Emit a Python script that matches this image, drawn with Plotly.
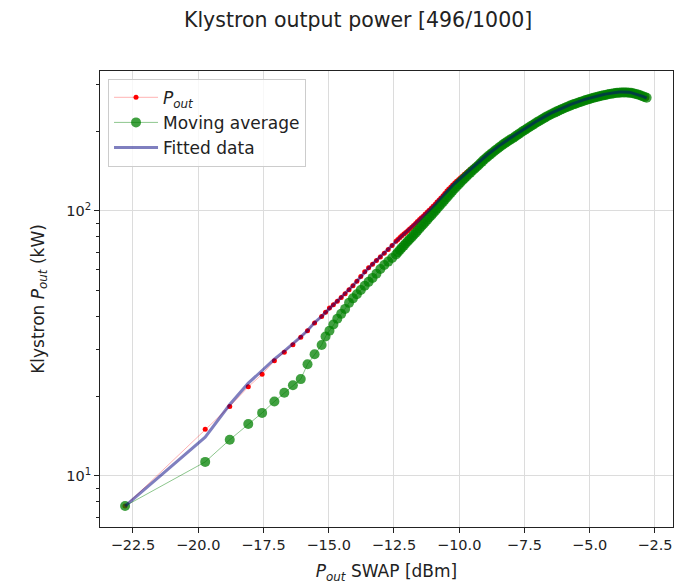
import plotly.graph_objects as go

# SWAP output power readings [dBm]
swap_dbm = [
    -22.80, -19.73, -18.79, -18.08, -17.55, -17.08, -16.70, -16.37, -16.07, -15.81,
    -15.54, -15.27, -15.12, -14.97, -14.82, -14.67, -14.52, -14.37, -14.22, -14.07,
    -13.92, -13.77, -13.62, -13.47, -13.32, -13.17, -13.02, -12.87, -12.72, -12.57,
    -12.42, -12.35, -12.27, -12.20, -12.12, -12.05, -11.97, -11.90, -11.82, -11.75,
    -11.67, -11.60, -11.52, -11.45, -11.37, -11.30, -11.22, -11.15, -11.07, -11.00,
    -10.92, -10.85, -10.77, -10.70, -10.62, -10.55, -10.47, -10.40, -10.32, -10.25,
    -10.17, -10.10, -10.02, -9.95, -9.87, -9.80, -9.72, -9.65, -9.57, -9.50,
    -9.42, -9.35, -9.27, -9.20, -9.12, -9.05, -8.97, -8.90, -8.82, -8.75,
    -8.67, -8.60, -8.52, -8.45, -8.37, -8.30, -8.22, -8.15, -8.07, -8.00,
    -7.92, -7.85, -7.77, -7.70, -7.62, -7.55, -7.47, -7.40, -7.32, -7.25,
    -7.17, -7.10, -7.02, -6.95, -6.87, -6.80, -6.72, -6.65, -6.57, -6.50,
    -6.42, -6.35, -6.27, -6.20, -6.12, -6.05, -5.97, -5.90, -5.82, -5.75,
    -5.67, -5.60, -5.52, -5.45, -5.37, -5.30, -5.22, -5.15, -5.07, -5.00,
    -4.92, -4.85, -4.77, -4.70, -4.62, -4.55, -4.47, -4.40, -4.32, -4.25,
    -4.17, -4.10, -4.02, -3.95, -3.87, -3.80, -3.72, -3.65, -3.57, -3.50,
    -3.42, -3.35, -3.27, -3.20, -3.12, -3.05, -2.97, -2.90, -2.82,
]

# Measured klystron output power [kW]
pout_kw = [
    7.7, 15.0, 18.3, 21.7, 24.2, 27.2, 29.3, 31.3, 33.4, 35.3,
    37.8, 40.0, 41.5, 43.0, 44.3, 45.6, 47.1, 48.7, 50.4, 52.2,
    54.3, 56.6, 58.9, 61.0, 62.9, 65.0, 67.0, 69.2, 71.5, 74.0,
    76.8, 78.1, 79.4, 80.6, 81.9, 83.0, 84.2, 85.5, 86.8, 88.2,
    89.6, 91.2, 92.8, 94.3, 95.8, 97.4, 99.0, 100.6, 102.3, 104.1,
    106.0, 108.0, 110.0, 112.0, 114.0, 116.4, 118.8, 120.9, 123.0, 125.2,
    127.4, 129.4, 131.5, 133.5, 135.5, 137.5, 139.6, 141.5, 143.5, 145.5,
    147.6, 149.7, 151.8, 154.1, 156.5, 159.0, 161.5, 163.8, 166.0, 168.0,
    170.0, 172.2, 174.5, 176.8, 179.0, 181.2, 183.5, 185.5, 187.5, 189.5,
    191.5, 193.8, 196.0, 198.0, 200.0, 202.5, 205.0, 207.2, 209.5, 211.8,
    214.0, 216.2, 218.5, 220.8, 223.0, 225.2, 227.5, 229.5, 231.5, 233.5,
    235.5, 237.5, 239.5, 241.2, 243.0, 244.8, 246.5, 248.2, 250.0, 251.8,
    253.5, 255.0, 256.5, 258.0, 259.5, 261.0, 262.5, 264.0, 265.5, 266.8,
    268.0, 269.2, 270.5, 271.5, 272.5, 273.8, 275.0, 276.0, 277.0, 277.8,
    278.5, 279.3, 280.0, 280.5, 281.0, 281.3, 281.5, 281.3, 281.0, 280.3,
    279.5, 278.3, 277.0, 275.5, 274.0, 272.3, 270.5, 268.5, 266.5,
]

# Moving average of the output power [kW]
moving_avg_kw = [
    7.7, 11.3, 13.7, 15.7, 17.3, 19.1, 20.6, 22.0, 23.2, 26.4,
    28.8, 31.2, 33.6, 35.3, 37.3, 39.2, 40.9, 42.7, 45.0, 46.8,
    48.5, 50.3, 52.2, 54.0, 55.9, 58.0, 60.4, 62.5, 64.4, 66.4,
    68.5, 69.8, 71.2, 72.6, 74.0, 75.4, 76.8, 78.2, 79.6, 81.1,
    82.6, 84.2, 85.8, 87.5, 89.2, 90.9, 92.6, 94.4, 96.2, 98.1,
    100.0, 102.0, 104.0, 106.0, 108.0, 110.2, 112.5, 114.7, 117.0, 119.2,
    121.5, 123.7, 126.0, 128.2, 130.5, 132.7, 135.0, 137.2, 139.5, 141.7,
    144.0, 146.2, 148.5, 151.0, 153.5, 156.0, 158.5, 160.7, 163.0, 165.2,
    167.5, 169.7, 172.0, 174.2, 176.5, 178.7, 181.0, 183.0, 185.0, 187.0,
    189.0, 191.2, 193.5, 195.7, 198.0, 200.2, 202.5, 204.7, 207.0, 209.2,
    211.5, 213.7, 216.0, 218.2, 220.5, 222.7, 225.0, 227.0, 229.0, 231.0,
    233.0, 235.0, 237.0, 239.0, 241.0, 242.7, 244.5, 246.2, 248.0, 249.7,
    251.5, 253.0, 254.5, 256.0, 257.5, 259.0, 260.5, 262.0, 263.5, 264.7,
    266.0, 267.2, 268.5, 269.7, 271.0, 272.0, 273.0, 274.0, 275.0, 276.0,
    277.0, 277.7, 278.5, 279.0, 279.5, 279.8, 280.0, 280.0, 280.0, 279.5,
    279.0, 278.0, 277.0, 275.8, 274.5, 272.8, 271.0, 269.3, 267.5,
]

# Fitted output power [kW]
fitted_kw = [
    7.7, 14.0, 18.6, 22.4, 25.0, 27.6, 29.6, 31.5, 33.5, 35.4,
    37.9, 40.0, 41.5, 42.9, 44.3, 45.7, 47.2, 48.8, 50.5, 52.3,
    54.3, 56.5, 58.8, 60.9, 63.0, 65.0, 67.1, 69.3, 71.6, 74.1,
    76.7, 78.0, 79.3, 80.5, 81.8, 83.0, 84.3, 85.6, 86.9, 88.3,
    89.7, 91.2, 92.7, 94.2, 95.8, 97.4, 99.0, 100.7, 102.4, 104.2,
    106.0, 108.0, 110.0, 112.0, 114.1, 116.3, 118.5, 120.7, 122.9, 125.1,
    127.2, 129.3, 131.4, 133.4, 135.5, 137.5, 139.5, 141.5, 143.5, 145.5,
    147.6, 149.8, 152.0, 154.3, 156.6, 158.9, 161.3, 163.6, 165.8, 168.0,
    170.1, 172.3, 174.5, 176.8, 179.0, 181.2, 183.4, 185.5, 187.5, 189.5,
    191.6, 193.7, 195.9, 198.0, 200.2, 202.5, 204.8, 207.1, 209.4, 211.7,
    214.0, 216.2, 218.5, 220.7, 223.0, 225.2, 227.4, 229.5, 231.5, 233.5,
    235.5, 237.5, 239.4, 241.2, 243.0, 244.8, 246.6, 248.4, 250.1, 251.8,
    253.4, 255.0, 256.6, 258.1, 259.6, 261.1, 262.5, 264.0, 265.4, 266.7,
    268.0, 269.2, 270.4, 271.5, 272.6, 273.8, 274.9, 275.9, 276.9, 277.8,
    278.6, 279.3, 279.9, 280.4, 280.9, 281.2, 281.3, 281.2, 281.0, 280.4,
    279.6, 278.4, 277.1, 275.6, 274.0, 272.3, 270.5, 268.6, 266.6,
]

x_ticks = [-22.5, -20.0, -17.5, -15.0, -12.5, -10.0, -7.5, -5.0, -2.5]
x_tick_text = ["\u221222.5", "\u221220.0", "\u221217.5", "\u221215.0", "\u221212.5",
               "\u221210.0", "\u22127.5", "\u22125.0", "\u22122.5"]
y_ticks = [10, 100]
y_tick_text = ["10<sup>1</sup>", "10<sup>2</sup>"]
y_minor = [7, 8, 9, 20, 30, 40, 50, 60, 70, 80, 90, 200, 300]

FONT = "DejaVu Sans"
INK = "#222222"

fig = go.Figure()

fig.add_trace(go.Scatter(
    x=swap_dbm, y=pout_kw, mode="lines+markers",
    name="<i>P</i><sub><i>out</i></sub>",
    line=dict(color="rgba(255,0,0,0.3)", width=1),
    marker=dict(color="red", size=5, line=dict(width=0)),
))
fig.add_trace(go.Scatter(
    x=swap_dbm, y=moving_avg_kw, mode="lines+markers",
    name="Moving average",
    line=dict(color="rgba(0,128,0,0.45)", width=1),
    marker=dict(color="rgba(0,128,0,0.75)", size=10, line=dict(width=0)),
))
fig.add_trace(go.Scatter(
    x=swap_dbm, y=fitted_kw, mode="lines",
    name="Fitted data",
    line=dict(color="rgba(0,0,128,0.5)", width=3),
))

axis_common = dict(
    showline=True, linecolor=INK, linewidth=1, mirror=True,
    showgrid=True, gridcolor="#dcdcdc", gridwidth=1,
    ticks="outside", ticklen=5, tickwidth=1, tickcolor=INK,
    tickfont=dict(family=FONT, size=14.5, color=INK),
    zeroline=False, automargin=False,
)

fig.update_xaxes(
    range=[-23.76, -1.81], tickmode="array", tickvals=x_ticks, ticktext=x_tick_text,
    title=dict(text="<i>P</i><sub><i>out</i></sub> SWAP [dBm]",
               font=dict(family=FONT, size=17, color=INK), standoff=13),
    **axis_common,
)
fig.update_yaxes(
    type="log", range=[0.8075, 2.528], tickmode="array", tickvals=y_ticks, ticktext=y_tick_text,
    minor=dict(tickmode="array", tickvals=y_minor, ticks="outside", ticklen=3,
               tickwidth=1, tickcolor=INK, showgrid=False),
    title=dict(text="Klystron <i>P</i><sub><i>out</i></sub> (kW)",
               font=dict(family=FONT, size=17, color=INK), standoff=17),
    **axis_common,
)

fig.update_layout(
    width=690, height=584,
    margin=dict(l=100, r=17, t=71, b=57),
    paper_bgcolor="white", plot_bgcolor="white",
    font=dict(family=FONT, size=14, color=INK),
    title=dict(text="Klystron output power [496/1000]", x=0.519, xref="container",
               xanchor="center", y=0.966, yref="container", yanchor="middle",
               font=dict(family=FONT, size=20.5, color=INK)),
    legend=dict(x=0.014, y=0.983, xanchor="left", yanchor="top",
                bgcolor="rgba(255,255,255,0.8)", bordercolor="#cccccc", borderwidth=1,
                itemwidth=44,
                font=dict(family=FONT, size=17, color=INK)),
    showlegend=True,
)

fig.write_html("out.html")
